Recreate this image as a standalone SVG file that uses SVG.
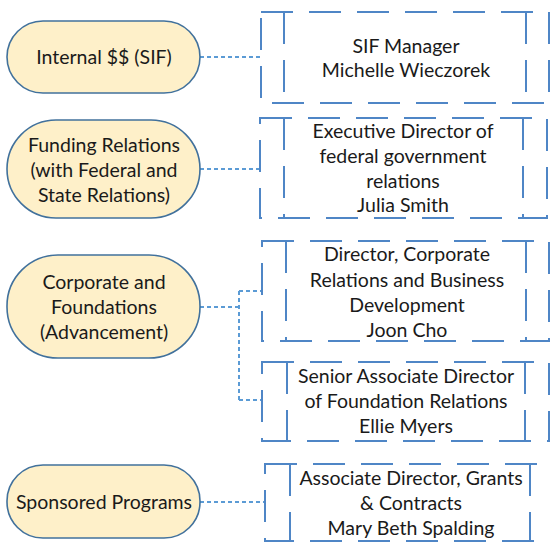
<svg xmlns="http://www.w3.org/2000/svg" width="550" height="548" viewBox="0 0 550 548">
<style>
.pill{fill:#FEF0C9;stroke:#41719C;stroke-width:1.6}
.box{fill:#FFFFFF;stroke:#4F86C6;stroke-width:2;stroke-dasharray:32 16}
.inner{fill:none;stroke:#4F86C6;stroke-width:2;stroke-dasharray:32 16}
.conn{fill:none;stroke:#5B9BD5;stroke-width:2;stroke-dasharray:4 3}
text{font-family:Lato,"Liberation Sans",sans-serif;font-size:19.5px;fill:#1A1A1A;text-anchor:middle}
</style>
<rect width="550" height="548" fill="#FFFFFF"/>
<g id="connectors">
<path class="conn" d="M200,57 H261"/>
<path class="conn" d="M200,169 H260"/>
<path class="conn" d="M200,307 H239 M239,291 V400 M239,291 H262 M239,400 H262"/>
<path class="conn" d="M200,502 H265"/>
</g>
<g id="n-internal">
<rect class="pill" x="7" y="21" width="193" height="72" rx="36"/>
<text x="104" y="64">Internal $$ (SIF)</text>
</g>
<g id="n-funding">
<rect class="pill" x="7" y="120" width="193" height="98" rx="49"/>
<text x="104" y="152">Funding Relations</text>
<text x="104" y="177">(with Federal and</text>
<text x="104" y="202">State Relations)</text>
</g>
<g id="n-corporate">
<rect class="pill" x="7" y="255" width="193" height="103" rx="51"/>
<text x="104" y="289">Corporate and</text>
<text x="104" y="314">Foundations</text>
<text x="104" y="339">(Advancement)</text>
</g>
<g id="n-sponsored">
<rect class="pill" x="7" y="465" width="193" height="73" rx="36"/>
<text x="104" y="509">Sponsored Programs</text>
</g>
<g id="b-sif">
<rect class="box" x="261" y="12" width="288" height="91"/>
<path class="inner" d="M284,12 V103 M526,12 V103"/>
<text x="406" y="53">SIF Manager</text>
<text x="406" y="77">Michelle Wieczorek</text>
</g>
<g id="b-exec">
<rect class="box" x="260" y="118" width="287" height="100"/>
<path class="inner" d="M284,118 V218 M523,118 V218"/>
<text x="403" y="138">Executive Director of</text>
<text x="403" y="163">federal government</text>
<text x="403" y="188">relations</text>
<text x="403" y="212">Julia Smith</text>
</g>
<g id="b-director">
<rect class="box" x="262" y="241" width="287" height="100"/>
<path class="inner" d="M286,241 V341 M526,241 V341"/>
<text x="407" y="261">Director, Corporate</text>
<text x="407" y="287">Relations and Business</text>
<text x="407" y="312">Development</text>
<text x="407" y="337">Joon Cho</text>
</g>
<g id="b-senior">
<rect class="box" x="262" y="362" width="287" height="79"/>
<path class="inner" d="M287,362 V441 M525,362 V441"/>
<text x="406" y="383">Senior Associate Director</text>
<text x="406" y="408">of Foundation Relations</text>
<text x="406" y="433">Ellie Myers</text>
</g>
<g id="b-associate">
<rect class="box" x="265" y="464" width="288" height="77"/>
<path class="inner" d="M290,464 V541 M530,464 V541"/>
<text x="411" y="485">Associate Director, Grants</text>
<text x="411" y="510">&amp; Contracts</text>
<text x="411" y="535">Mary Beth Spalding</text>
</g>
</svg>
